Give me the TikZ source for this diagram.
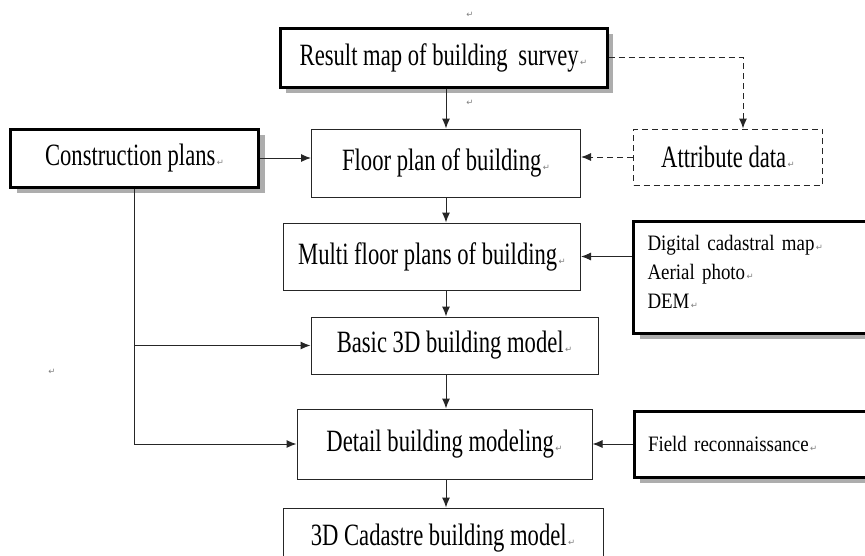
\documentclass[tikz,border=0pt]{standalone}
\usepackage{fontspec}
\setmainfont{Liberation Serif}
\newfontfamily\narrowserif{Liberation Serif}[FakeStretch=0.73]
\newfontfamily\smallserif{Liberation Serif}[FakeStretch=0.86]
\newfontfamily\retfont{DejaVu Sans}
\usetikzlibrary{shapes,arrows.meta,positioning,shadows}
\newcommand{\ret}{{\retfont\fontsize{8.5}{8.5}\selectfont\color{gray}\,↵}}
\newcommand{\auxfont}{\smallserif\fontsize{22}{29}\selectfont\spaceskip=3.5pt\relax}
\tikzstyle{block}   = [rectangle, draw=black!85, line width=1pt, fill=white, text centered, inner sep=0pt, font=\narrowserif\fontsize{31}{31}\selectfont]
\tikzstyle{source}  = [block, draw=black, line width=3pt, drop shadow={shadow xshift=6pt, shadow yshift=-6pt, fill=black!32, opacity=1}]
\tikzstyle{aux}     = [source, align=left, inner xsep=14pt, text width=226pt, font=\auxfont]
\tikzstyle{dblock}  = [block, dash pattern=on 6pt off 4pt]
\tikzstyle{line}    = [draw=black!85, line width=1pt, -{Latex[length=10pt,width=8pt]}]
\tikzstyle{dline}   = [line, dash pattern=on 6pt off 4pt]
\tikzstyle{retmark} = [text=gray, inner sep=0pt, font=\retfont\fontsize{8.5}{8.5}\selectfont]

\begin{document}
\begin{tikzpicture}[x=1pt, y=-1pt]
	\useasboundingbox (0,0) rectangle (865,555);

		% Node Setting %

		% 0 =======================================%
		\node [source, minimum width=327pt, minimum height=59pt] at (443.5,57.5) (survey) {Result map of building\hspace{5pt} survey\ret};
		% 1 =======================================%
		\node [block, below=40pt of survey, xshift=2.5pt, minimum width=269pt, minimum height=68pt] (floor) {Floor plan of building\ret};
		\node [source, left=51pt of floor, yshift=5pt, minimum width=248pt, minimum height=58pt] (constr) {Construction plans\ret};
		\node [dblock, right=52pt of floor, yshift=6pt, minimum width=189pt, minimum height=56pt] (attr) {Attribute data\ret};
		% 2 =======================================%
		\node [block, below=25pt of floor, xshift=-14pt, minimum width=297pt, minimum height=67pt] (multi) {Multi floor plans of building\ret};
		\node [aux, right=51pt of multi, yshift=-20.5pt, minimum height=112pt] (digital) {Digital cadastral map\ret\\Aerial photo\ret\\DEM\ret\\[-18pt]\mbox{}};
		% 3 =======================================%
		\node [block, below=26pt of multi, xshift=22.5pt, minimum width=287pt, minimum height=57pt] (basic) {Basic 3D building model\ret};
		% 4 =======================================%
		\node [block, below=34pt of basic, xshift=-10pt, minimum width=295pt, minimum height=70pt] (detail) {Detail building modeling\ret};
		\node [aux, right=40pt of detail, minimum height=66pt] (field) {Field reconnaissance\ret};
		% 5 =======================================%
		\node [block, below=28pt of detail, xshift=-1.5pt, minimum width=320pt, minimum height=60pt] (cadastre) {3D Cadastre building model\ret};
		%=========================================%
		\node [retmark] at (470,15) (ret1) {↵};
		\node [retmark] at (470,103) (ret2) {↵};
		\node [retmark] at (52,372) (ret3) {↵};

		% Connection %

		\path [line] (survey.south -| floor.north) -- (floor.north);
		\path [dline] (survey.east) -| ([xshift=15pt]attr.north);
		\path [dline] (attr.west) -- (attr.west -| floor.east);
		\path [line] (constr.east) -- (constr.east -| floor.west);
		\path [line] (floor.south) -- (floor.south |- multi.north);
		\path [line] (multi.east -| digital.west) -- (multi.east);
		\path [line] (floor.south |- multi.south) -- (floor.south |- basic.north);
		\path [line] (constr.south) |- (detail.west);
		\path [line] (constr.south |- basic.west) -- (basic.west);
		\path [line] (floor.south |- basic.south) -- (floor.south |- detail.north);
		\path [line] (field.west) -- (detail.east);
		\path [line] (floor.south |- detail.south) -- (floor.south |- cadastre.north);
	\end{tikzpicture}
\end{document}
